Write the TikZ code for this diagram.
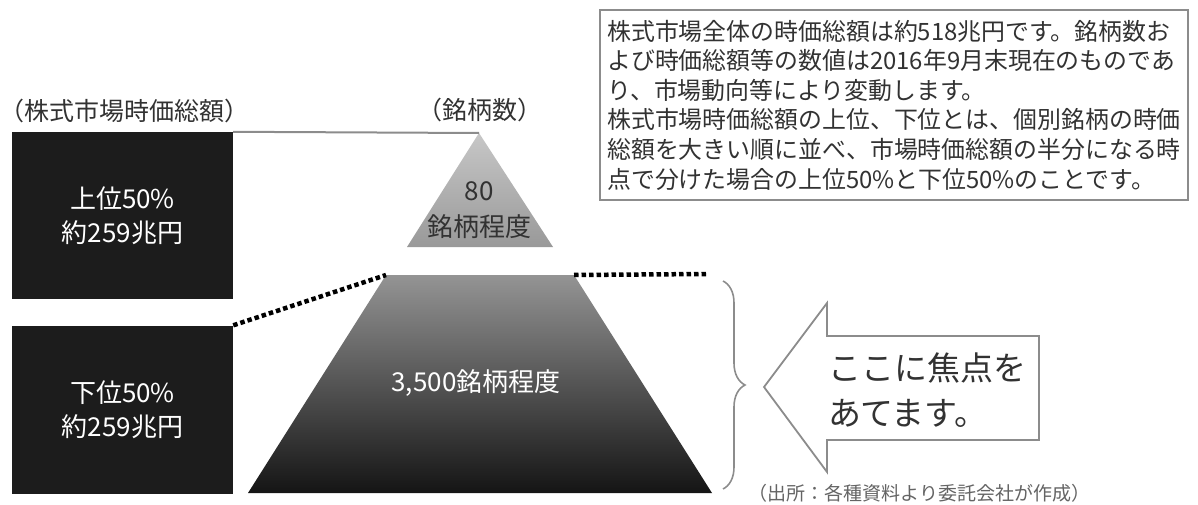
\documentclass[tikz,border=0pt]{standalone}
\usepackage{fontspec}
\setmainfont{Noto Sans CJK JP}
\usetikzlibrary{decorations.pathreplacing}
\definecolor{myblack}{RGB}{28,28,28}
\definecolor{mytext}{RGB}{50,50,50}
\definecolor{myline}{RGB}{140,140,140}
\definecolor{mysource}{RGB}{100,100,100}

\begin{document}
\begin{tikzpicture}[x=1pt,y=-1pt,
        blackbox/.style={fill=myblack,text=white,minimum width=221pt,align=center,inner sep=0pt,font=\fontsize{26}{34}\selectfont},
        caption/.style={text=mytext,inner sep=0pt,font=\fontsize{25}{30}\selectfont},
        dots/.style={line width=4.5pt,dash pattern=on 4.5pt off 3pt}]
        \useasboundingbox (0,0) rectangle (1198,505);
        \node[blackbox,minimum height=167pt] (upper) at (122.5,215.5) {上位50\%\\約259兆円};
        \node[blackbox,minimum height=168pt] (lower) at (122.5,409.5) {下位50\%\\約259兆円};
        \node[caption] (cap) at (124,111) {（株式市場時価総額）};
        \node[caption] (count) at (480,110) {（銘柄数）};
        \coordinate (apex) at (479,133);
        \coordinate (tl) at (386,275);
        \coordinate (tr) at (574,275);
        \coordinate (dotend) at (707,274);
        \shade[top color=black!22,bottom color=black!40] (apex) -- (553,247) -- (407,247) -- cycle;
        \shade[top color=black!42,bottom color=black!92] (tl) -- (tr) -- (712,493) -- (248,493) -- cycle;
        \node[text=mytext,align=center,font=\fontsize{26}{36}\selectfont] (few) at (479,210) {80\\銘柄程度};
        \node[text=white,font=\fontsize{26}{30}\selectfont] (many) at (476,383) {3,500銘柄程度};
        \draw[myline,line width=2pt] (upper.north east) -- (apex);
        \draw[dots] (lower.north east) -- (tl);
        \draw[dots] (tr) -- (dotend);
        \draw[myline,line width=1.6pt,decorate,decoration={brace,amplitude=22pt}] (723,281) -- (723,489);
        \draw[myline,line width=1.8pt,fill=white] (764,387) -- (827,303) -- (827,336) -- (1039,336) -- (1039,440) -- (827,440) -- (827,472) -- cycle;
        \node[text=mytext,align=left,font=\fontsize{33}{45}\selectfont] (focus) at (927,390) {ここに焦点を\\あてます。};
        \node[text=mysource,font=\fontsize{19}{22}\selectfont,anchor=west] (source) at (745,493) {（出所：各種資料より委託会社が作成）};
        \node[draw=myline,line width=1.5pt,text=mytext,align=left,minimum width=588pt,minimum height=190pt,font=\fontsize{23.9}{29.6}\selectfont] (note) at (894,105) {株式市場全体の時価総額は約518兆円です。銘柄数お\\よび時価総額等の数値は2016年9月末現在のものであ\\り、市場動向等により変動します。\\株式市場時価総額の上位、下位とは、個別銘柄の時価\\総額を大きい順に並べ、市場時価総額の半分になる時\\点で分けた場合の上位50\%と下位50\%のことです。};
\end{tikzpicture}
\end{document}
